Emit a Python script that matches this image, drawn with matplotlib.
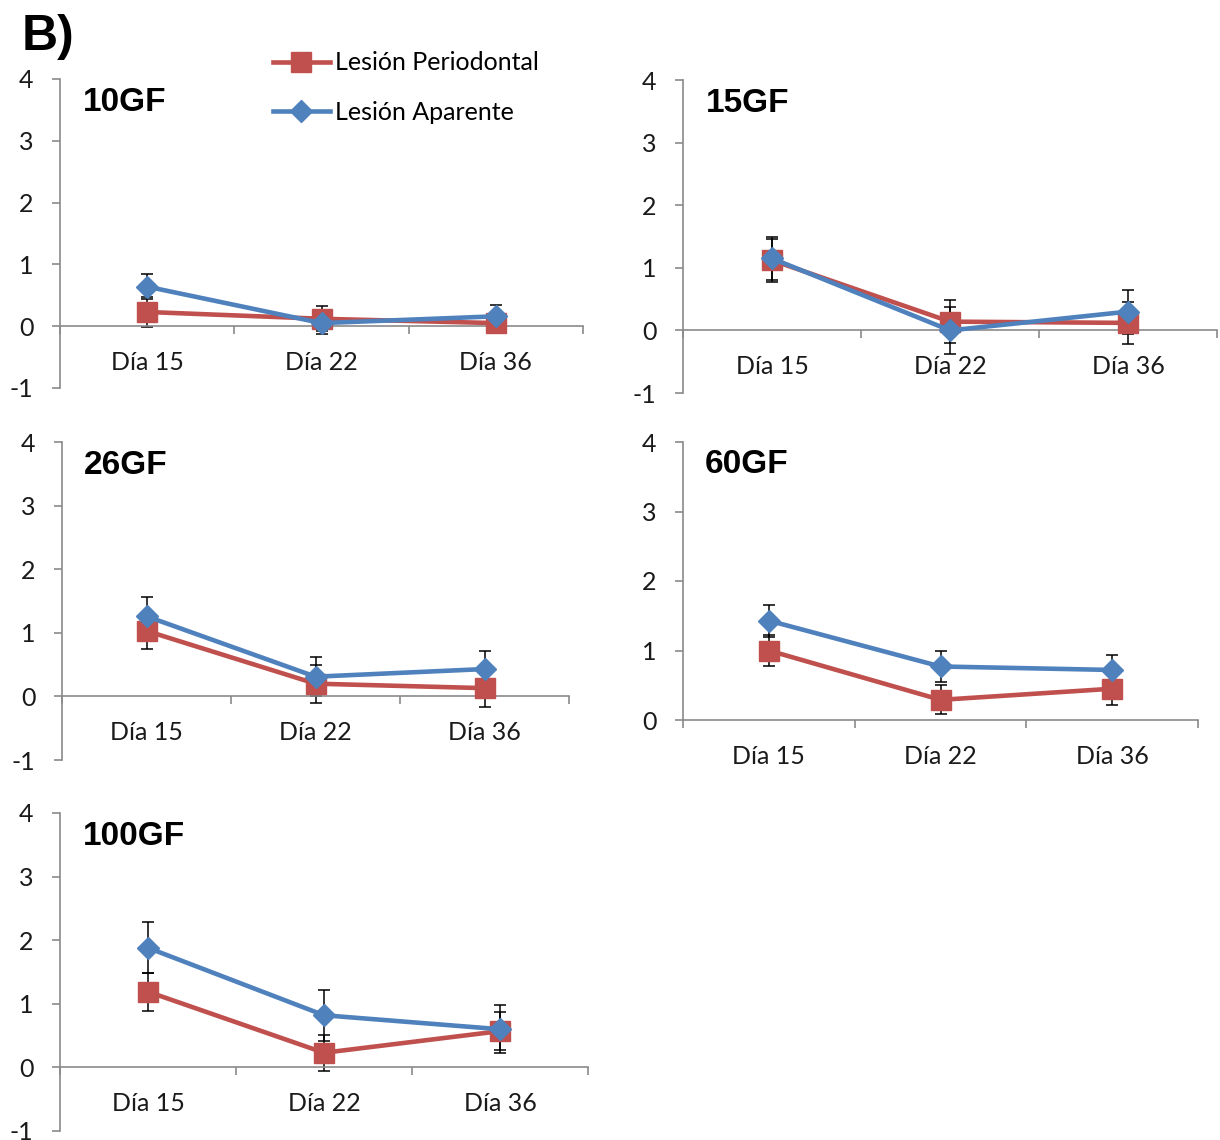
import numpy as np
import matplotlib.pyplot as plt
from matplotlib.ticker import FixedLocator

plt.rcParams['font.family'] = ['Lato', 'DejaVu Sans']
plt.rcParams['axes.unicode_minus'] = False

dias = ['Día 15', 'Día 22', 'Día 36']
series_names = ['Lesión Periodontal', 'Lesión Aparente']
red = '#C0504D'
blue = '#4F81BD'

# mean score and error for each group (periodontal / apparent)
perio_10 = [0.23, 0.12, 0.05]
perio_10_err = [0.24, 0.20, 0.15]
apar_10 = [0.64, 0.05, 0.16]
apar_10_err = [0.20, 0.17, 0.19]

perio_15 = [1.12, 0.14, 0.12]
perio_15_err = [0.34, 0.34, 0.34]
apar_15 = [1.15, 0.0, 0.30]
apar_15_err = [0.34, 0.38, 0.35]

perio_26 = [1.03, 0.20, 0.13]
perio_26_err = [0.28, 0.30, 0.29]
apar_26 = [1.26, 0.31, 0.43]
apar_26_err = [0.30, 0.31, 0.29]

perio_60 = [1.00, 0.29, 0.45]
perio_60_err = [0.23, 0.21, 0.23]
apar_60 = [1.43, 0.77, 0.72]
apar_60_err = [0.23, 0.23, 0.22]

perio_100 = [1.19, 0.23, 0.57]
perio_100_err = [0.30, 0.28, 0.30]
apar_100 = [1.88, 0.82, 0.60]
apar_100_err = [0.40, 0.40, 0.38]

W, H = 1220, 1140
fig = plt.figure(figsize=(W / 100, H / 100), dpi=100)


def panel(px_left, px_right, px_top, px_bottom, title, perio, perio_err,
          apar, apar_err, ymin=-1):
    ax = fig.add_axes([px_left / W, 1 - px_bottom / H,
                       (px_right - px_left) / W, (px_bottom - px_top) / H])
    x = np.arange(len(dias))
    for vals, errs, color, marker, ms in [(perio, perio_err, red, 's', 15),
                                           (apar, apar_err, blue, 'D', 11.5)]:
        ax.errorbar(x, vals, yerr=errs, fmt='none', ecolor='black',
                    elinewidth=1.1, capsize=4, capthick=1.1, zorder=2)
        ax.plot(x, vals, color=color, lw=3.3, marker=marker, ms=ms,
                zorder=3)
    ax.set_xlim(-0.5, 2.5)
    ax.set_ylim(ymin, 4)
    ax.set_yticks(range(ymin, 5))
    ax.spines['top'].set_visible(False)
    ax.spines['right'].set_visible(False)
    ax.spines['bottom'].set_position(('data', 0))
    for s in ('left', 'bottom'):
        ax.spines[s].set_color('#8a8a8a')
        ax.spines[s].set_linewidth(1.2)
    ax.xaxis.set_major_locator(FixedLocator([-0.5, 0.5, 1.5, 2.5]))
    ax.xaxis.set_minor_locator(FixedLocator(x))
    ax.set_xticklabels([], minor=False)
    ax.set_xticklabels(dias, minor=True)
    ax.tick_params(axis='x', which='major', direction='out', length=6,
                   color='#8a8a8a', width=1.2)
    ax.tick_params(axis='x', which='minor', length=0, pad=18,
                   labelsize=18, labelcolor='#1a1a1a')
    ax.tick_params(axis='y', direction='out', length=6, color='#8a8a8a',
                   width=1.2, labelsize=18, labelcolor='#1a1a1a', pad=13)
    ax.text(0.043, 0.975, title, transform=ax.transAxes, ha='left',
            va='top', fontsize=24, fontweight='bold',
            family='Liberation Sans')
    return ax


panel(60, 583, 79, 388, '10GF', perio_10, perio_10_err, apar_10, apar_10_err)
panel(683, 1217, 80, 393, '15GF', perio_15, perio_15_err, apar_15,
      apar_15_err)
panel(62, 569, 442, 760, '26GF', perio_26, perio_26_err, apar_26,
      apar_26_err)
panel(683, 1198, 442, 720, '60GF', perio_60, perio_60_err, apar_60,
      apar_60_err, ymin=0)
panel(60, 588, 813, 1131, '100GF', perio_100, perio_100_err, apar_100,
      apar_100_err)

# legend handles, drawn as Excel-style line + marker
h1, = plt.plot([], [], color=red, lw=3.3, marker='s', ms=15)
h2, = plt.plot([], [], color=blue, lw=3.3, marker='D', ms=11.5)
fig.legend([h1, h2], series_names, loc='upper left',
           bbox_to_anchor=(250 / W, 1 - 29 / H), frameon=False,
           fontsize=18, handlelength=2.3, handletextpad=0.2,
           labelspacing=1.05)

fig.text(22 / W, 1 - 14 / H, 'B)', ha='left', va='top', fontsize=36,
         fontweight='bold', family='Liberation Sans')

fig.savefig('out.png', dpi=100)
